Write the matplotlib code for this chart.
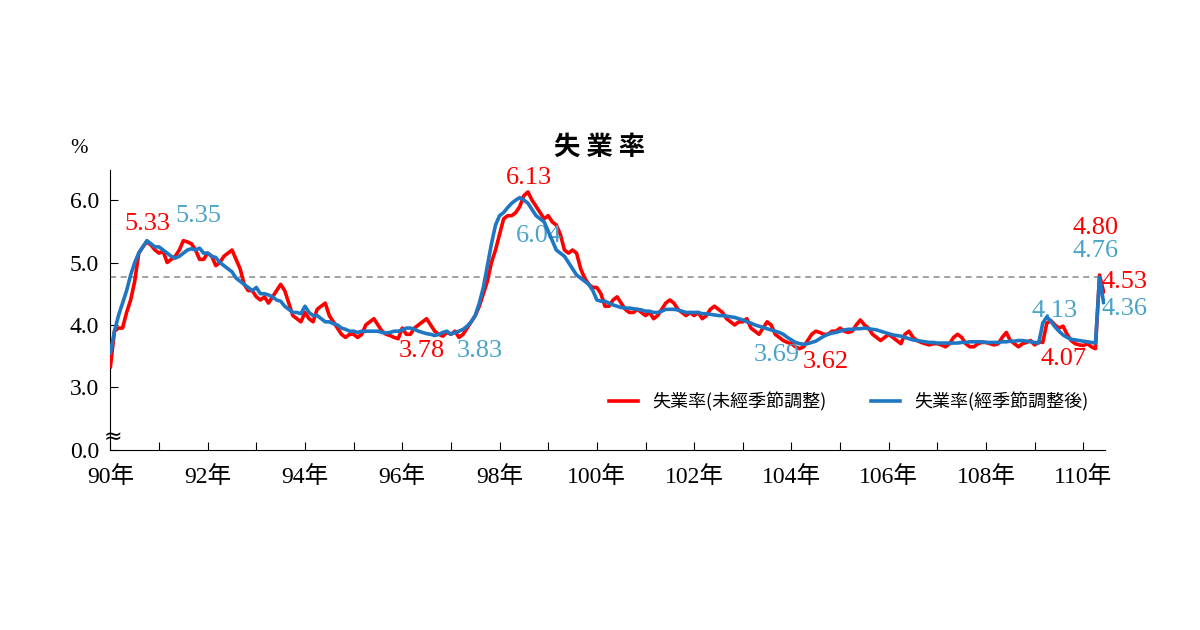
import matplotlib
matplotlib.use("Agg")
import matplotlib.pyplot as plt

# ROC years 90 (2001) .. 110 (2021), monthly
nsa = {
 90: [3.33,3.90,3.95,3.95,4.20,4.40,4.70,5.15,5.25,5.33,5.28,5.20],
 91: [5.15,5.18,5.00,5.05,5.10,5.20,5.35,5.33,5.30,5.20,5.05,5.05],
 92: [5.15,5.10,4.95,5.00,5.10,5.15,5.20,5.05,4.90,4.65,4.55,4.55],
 93: [4.45,4.40,4.45,4.35,4.45,4.55,4.65,4.55,4.35,4.15,4.10,4.05],
 94: [4.20,4.10,4.05,4.25,4.30,4.35,4.15,4.05,3.95,3.85,3.80,3.85],
 95: [3.85,3.80,3.85,4.00,4.05,4.10,4.00,3.90,3.85,3.83,3.80,3.78],
 96: [3.95,3.85,3.85,3.95,4.00,4.05,4.10,4.00,3.90,3.85,3.82,3.88],
 97: [3.85,3.90,3.80,3.85,3.95,4.05,4.15,4.30,4.50,4.70,5.00,5.20],
 98: [5.45,5.70,5.75,5.75,5.80,5.90,6.07,6.13,6.00,5.90,5.80,5.70],
 99: [5.75,5.65,5.60,5.45,5.20,5.15,5.20,5.15,4.90,4.75,4.65,4.60],
 100:[4.60,4.50,4.30,4.30,4.40,4.45,4.35,4.25,4.20,4.20,4.25,4.20],
 101:[4.15,4.20,4.10,4.15,4.25,4.35,4.40,4.35,4.25,4.20,4.15,4.20],
 102:[4.15,4.20,4.10,4.15,4.25,4.30,4.25,4.20,4.10,4.05,4.00,4.05],
 103:[4.05,4.10,3.95,3.90,3.85,3.95,4.05,4.00,3.85,3.80,3.75,3.72],
 104:[3.70,3.65,3.62,3.65,3.75,3.85,3.90,3.88,3.85,3.85,3.90,3.90],
 105:[3.95,3.90,3.88,3.90,4.00,4.08,4.00,3.95,3.85,3.80,3.75,3.80],
 106:[3.85,3.80,3.75,3.70,3.85,3.90,3.80,3.75,3.72,3.70,3.68,3.70],
 107:[3.70,3.68,3.65,3.70,3.80,3.85,3.80,3.70,3.65,3.65,3.70,3.72],
 108:[3.72,3.70,3.68,3.70,3.80,3.88,3.75,3.70,3.65,3.70,3.72,3.75],
 109:[3.68,3.73,3.72,4.03,4.07,4.00,3.95,3.98,3.85,3.75,3.70,3.68],
 110:[3.67,3.70,3.65,3.62,4.80,4.53],
}
sa = {
 90: [3.55,3.90,4.15,4.35,4.55,4.80,5.00,5.15,5.25,5.35,5.30,5.25],
 91: [5.25,5.20,5.15,5.10,5.07,5.10,5.15,5.20,5.22,5.20,5.23,5.15],
 92: [5.15,5.10,5.08,5.00,4.95,4.90,4.85,4.75,4.70,4.65,4.60,4.55],
 93: [4.60,4.50,4.50,4.48,4.45,4.40,4.38,4.30,4.25,4.20,4.20,4.18],
 94: [4.30,4.20,4.15,4.15,4.10,4.05,4.05,4.02,4.00,3.95,3.93,3.90],
 95: [3.90,3.88,3.90,3.90,3.90,3.90,3.90,3.88,3.87,3.88,3.90,3.90],
 96: [3.92,3.95,3.95,3.93,3.90,3.88,3.86,3.85,3.83,3.85,3.88,3.90],
 97: [3.85,3.88,3.90,3.93,3.98,4.05,4.15,4.35,4.60,4.95,5.30,5.60],
 98: [5.75,5.80,5.88,5.95,6.00,6.04,6.00,5.95,5.85,5.75,5.70,5.65],
 99: [5.50,5.35,5.20,5.15,5.10,5.00,4.90,4.80,4.75,4.70,4.65,4.55],
 100:[4.40,4.38,4.38,4.35,4.32,4.30,4.28,4.27,4.27,4.26,4.25,4.24],
 101:[4.22,4.22,4.20,4.20,4.22,4.25,4.25,4.25,4.24,4.22,4.20,4.20],
 102:[4.20,4.20,4.18,4.18,4.17,4.16,4.15,4.15,4.14,4.13,4.12,4.10],
 103:[4.08,4.05,4.03,4.00,3.98,3.96,3.94,3.92,3.90,3.88,3.85,3.80],
 104:[3.76,3.72,3.70,3.69,3.70,3.72,3.74,3.78,3.82,3.85,3.87,3.88],
 105:[3.90,3.92,3.93,3.93,3.94,3.94,3.95,3.94,3.93,3.92,3.90,3.88],
 106:[3.86,3.84,3.83,3.82,3.80,3.78,3.76,3.75,3.74,3.73,3.72,3.72],
 107:[3.71,3.71,3.71,3.71,3.71,3.71,3.72,3.72,3.73,3.73,3.73,3.73],
 108:[3.72,3.72,3.72,3.72,3.73,3.73,3.74,3.74,3.75,3.75,3.74,3.73],
 109:[3.72,3.71,4.03,4.13,4.06,3.97,3.90,3.84,3.80,3.77,3.76,3.75],
 110:[3.74,3.73,3.72,3.71,4.76,4.36],
}
years = list(range(90, 111))
year_ticks = list(range(90, 111, 2))
ref_level = 4.76

x, y_nsa, y_sa = [], [], []
for yr in years:
    for m, (a, b) in enumerate(zip(nsa[yr], sa[yr])):
        x.append(yr + m / 12)
        y_nsa.append(a)
        y_sa.append(b)

CJK = "Noto Sans CJK JP"
plt.rcParams["font.family"] = ["Liberation Serif", CJK]
RED = "#ff0000"
BLUE = "#1f77c4"
LBLUE = "#4aa3c8"

fig = plt.figure(figsize=(12, 6.3), dpi=100)
ax = fig.add_axes([0.092, 0.286, 0.829, 0.444])
ax.plot(x, y_nsa, color=RED, lw=2.6, label="失業率(未經季節調整)", zorder=3)
ax.plot(x, y_sa, color=BLUE, lw=2.6, label="失業率(經季節調整後)", zorder=4)
ax.axhline(ref_level, color="#888888", ls=(0, (4, 3)), lw=1.1, zorder=1)

ax.set_xlim(90, 110.45)
ax.set_ylim(2.0, 6.48)
ax.set_yticks([2.0, 3.0, 4.0, 5.0, 6.0])
ax.set_yticklabels(["0.0", "3.0", "4.0", "5.0", "6.0"], fontsize=17)
ax.set_xticks(years)
ax.set_xticklabels([f"{y}年" if y in year_ticks else "" for y in years],
                   fontsize=17)
ax.tick_params(axis="x", direction="in", length=6, pad=12)
ax.tick_params(axis="y", direction="in", length=6, pad=8)
for s in ["top", "right"]:
    ax.spines[s].set_visible(False)
ax.text(90.05, 2.2, "≈", fontsize=16, ha="center", va="center",
        family="DejaVu Sans")
ax.text(-0.04, 1.06, "%", transform=ax.transAxes, fontsize=15, ha="left")
fig.text(0.5, 0.755, "失 業 率", fontsize=19, fontweight="bold",
         family=CJK, ha="center")

def lab(xx, yy, t, c):
    ax.text(xx, yy, t, color=c, fontsize=19, ha="center", va="center")
lab(90.75, 5.62, "5.33", RED)
lab(91.8, 5.75, "5.35", LBLUE)
lab(96.4, 3.58, "3.78", RED)
lab(97.6, 3.58, "3.83", LBLUE)
lab(98.6, 6.35, "6.13", RED)
lab(98.8, 5.42, "6.04", LBLUE)
lab(103.7, 3.52, "3.69", LBLUE)
lab(104.7, 3.41, "3.62", RED)
lab(109.4, 4.23, "4.13", LBLUE)
lab(109.6, 3.45, "4.07", RED)
lab(110.25, 5.56, "4.80", RED)
lab(110.25, 5.18, "4.76", LBLUE)
lab(110.85, 4.68, "4.53", RED)
lab(110.85, 4.25, "4.36", LBLUE)

ax.legend(loc="lower right", bbox_to_anchor=(1.0, 0.08), ncol=2, frameon=False,
          prop={"family": CJK, "size": 13}, handlelength=1.6, columnspacing=2.5)
fig.savefig("out.png", dpi=100)
